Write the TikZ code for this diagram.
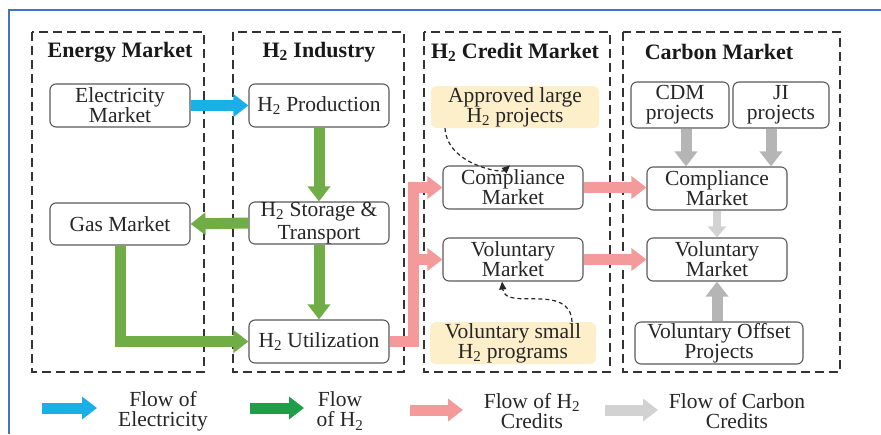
\documentclass[tikz,border=0pt]{standalone}
\usepackage{fontspec}
\setmainfont{Liberation Serif}
\usetikzlibrary{arrows.meta}

\definecolor{elecblue}{HTML}{1AAFE6}
\definecolor{hgreen}{HTML}{70AD47}
\definecolor{legendgreen}{HTML}{1F9E4A}
\definecolor{credpink}{HTML}{F59A9A}
\definecolor{carbgray}{HTML}{B5B5B5}
\definecolor{carbgraylight}{HTML}{D2D2D2}
\definecolor{projyellow}{HTML}{FCEFC9}
\definecolor{frameblue}{HTML}{4472C4}

\tikzset{
  txt/.style={font=\fontsize{21.5}{20}\selectfont, text=black!85, align=center},
  box/.style={txt, draw=black!65, line width=1.1pt, rounded corners=6pt,
              fill=white, inner sep=1pt, minimum width=140pt, minimum height=43pt},
  projbox/.style={txt, fill=projyellow, rounded corners=6pt, inner sep=1pt,
              minimum width=168pt, minimum height=42pt},
  region/.style={draw=black!80, line width=1.8pt, dash pattern=on 9pt off 5pt},
  regtitle/.style={font=\fontsize{22}{22}\bfseries\selectfont, text=black!90},
  flow/.style={line width=11pt, -{Triangle[width=22pt,length=15pt]}},
  thinflow/.style={line width=8pt, -{Triangle[width=18pt,length=11pt]}},
  influence/.style={black!85, line width=1.2pt, dash pattern=on 4pt off 3pt,
              -{Triangle[width=7pt,length=8pt]}},
}

\begin{document}
\begin{tikzpicture}[x=1pt, y=-1pt]
\useasboundingbox (0,0) rectangle (881,434);

% outer frame (top and left edges)
\draw[frameblue, line width=2pt] (9,434) -- (9,10) -- (881,10);

% market regions
\draw[region] (32,32) rectangle (204,372);
\draw[region] (233,32) rectangle (404,372);
\draw[region] (424,32) rectangle (610,372);
\draw[region] (623,32) rectangle (840,372);

\node[regtitle] (tEnergy) at (120,52) {Energy Market};
\node[regtitle] (tIndustry) at (319,52) {H\textsubscript{2} Industry};
\node[regtitle] (tCredit) at (515,52) {H\textsubscript{2} Credit Market};
\node[regtitle] (tCarbon) at (719,52) {Carbon Market};

% energy market
\node[box] (elec) at (120,105.5) {Electricity\\Market};
\node[box, minimum height=42pt] (gas) at (120,224) {Gas Market};

% hydrogen industry
\node[box] (prod) at (319,105.5) {H\textsubscript{2} Production};
\node[box, minimum height=42pt, inner ysep=0pt] (stor) at (319,223) {H\textsubscript{2} Storage \&\\[3pt]Transport};
\node[box] (util) at (319,341.5) {H\textsubscript{2} Utilization};

% hydrogen credit market
\node[projbox] (large) at (515,107) {Approved large\\H\textsubscript{2} projects};
\node[box] (cc) at (513,187.5) {Compliance\\Market};
\node[box] (vc) at (513,259.5) {Voluntary\\Market};
\node[projbox, minimum width=166pt] (small) at (513,343) {Voluntary small\\H\textsubscript{2} programs};

% carbon market
\node[box, minimum width=98pt, minimum height=46pt] (cdm) at (680,105) {CDM\\projects};
\node[box, minimum width=96pt, minimum height=46pt] (ji) at (781,105) {JI\\projects};
\node[box] (ccm) at (717,188.5) {Compliance\\Market};
\node[box] (cvm) at (717,259.5) {Voluntary\\Market};
\node[box, minimum width=168pt, minimum height=42pt] (vop) at (719,343) {Voluntary Offset\\Projects};

% electricity and hydrogen flows
\draw[flow, elecblue] (elec.east) -- (prod.west);
\draw[flow, hgreen] (prod.south) -- (stor.north);
\draw[flow, hgreen] (stor.west) -- (gas.east);
\draw[flow, hgreen] (stor.south) -- (util.north);
\draw[flow, hgreen] (gas.south) |- (util.west);

% hydrogen credit flows
\coordinate (trunk) at (413,0);
\draw[flow, credpink] (util.east) -| (trunk |- cc.west) -- (cc.west);
\draw[flow, credpink] (trunk |- vc.west) -- (vc.west);
\draw[flow, credpink] (cc.east) -- (cc.east -| ccm.west);
\draw[flow, credpink] (vc.east) -- (vc.east -| cvm.west);

% project influence
\draw[influence] ([xshift=-70pt]large.south) .. controls ([xshift=-68pt,yshift=-36pt]large.south)
  and ([xshift=-12pt,yshift=-8pt]cc.north) .. ([xshift=-3pt]cc.north);
\draw[influence] ([xshift=59pt]small.north) .. controls ([xshift=57pt,yshift=40pt]small.north)
  and ([xshift=-8pt,yshift=-30pt]vc.south) .. ([xshift=-11pt]vc.south);

% carbon credit flows
\draw[flow, carbgray] ([xshift=6pt]cdm.south) -- ([xshift=6pt]cdm.south |- ccm.north);
\draw[flow, carbgray] ([xshift=-10pt]ji.south) -- ([xshift=-10pt]ji.south |- ccm.north);
\draw[thinflow, carbgraylight] (ccm.south) -- (cvm.north);
\draw[flow, carbgray] ([xshift=-2pt]vop.north) -- ([xshift=-2pt]vop.north |- cvm.south);

% legend
\coordinate (lgA0) at (42,408);  \coordinate (lgA1) at (97,408);
\coordinate (lgB0) at (250,408); \coordinate (lgB1) at (304,408);
\coordinate (lgC0) at (410,410); \coordinate (lgC1) at (463,410);
\coordinate (lgD0) at (605,410); \coordinate (lgD1) at (658,410);
\draw[flow, elecblue] (lgA0) -- (lgA1);
\draw[flow, legendgreen] (lgB0) -- (lgB1);
\draw[flow, credpink] (lgC0) -- (lgC1);
\draw[flow, carbgraylight] (lgD0) -- (lgD1);
\node[txt] (lgAt) at (163,411) {Flow of\\Electricity};
\node[txt] (lgBt) at (340,411) {Flow\\of H\textsubscript{2}};
\node[txt] (lgCt) at (532,411) {Flow of H\textsubscript{2}\\Credits};
\node[txt] (lgDt) at (737,411) {Flow of Carbon\\Credits};
\end{tikzpicture}
\end{document}
